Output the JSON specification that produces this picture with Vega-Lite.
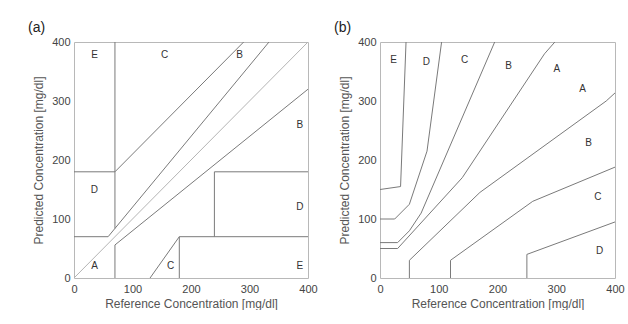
{
  "$schema": "https://vega.github.io/schema/vega-lite/v6.json",
  "background": "white",
  "padding": {"left": 27, "top": 20, "right": 0, "bottom": 0},
  "spacing": 15,
  "config": {
    "font": "Liberation Sans",
    "view": {"stroke": "#b8b8b8", "strokeWidth": 1},
    "axis": {"grid": false, "domain": false, "ticks": false, "labelFlush": false, "labelFontSize": 11, "labelColor": "#444", "titleFontSize": 12, "titleFontWeight": "normal", "titleColor": "#555"},
    "axisX": {"labelPadding": 5, "titlePadding": 4},
    "axisY": {"labelPadding": 4, "titlePadding": 6},
    "title": {"fontSize": 14, "fontWeight": "normal", "color": "#222", "anchor": "start", "frame": "group", "dx": -46, "offset": 1}
  },
  "hconcat": [
    {
      "title": "(a)",
      "width": 234,
      "height": 236,
      "layer": [
        {
          "data": {"values": [{"x": 0, "y": 0}, {"x": 400, "y": 400}]},
          "mark": {"type": "line", "color": "#b4b4b4", "strokeWidth": 1},
          "encoding": {
            "x": {"field": "x", "type": "quantitative", "scale": {"domain": [0, 400], "nice": false}, "axis": {"values": [0, 100, 200, 300, 400], "title": "Reference Concentration [mg/dl]"}},
            "y": {"field": "y", "type": "quantitative", "scale": {"domain": [0, 400], "nice": false}, "axis": {"values": [0, 100, 200, 300, 400], "title": "Predicted Concentration [mg/dl]"}}
          }
        },
        {
          "data": {"values": [
            {"seg": 1, "o": 1, "x": 0, "y": 70}, {"seg": 1, "o": 2, "x": 58.33, "y": 70}, {"seg": 1, "o": 3, "x": 333.33, "y": 400},
            {"seg": 2, "o": 1, "x": 70, "y": 84}, {"seg": 2, "o": 2, "x": 70, "y": 400},
            {"seg": 3, "o": 1, "x": 0, "y": 180}, {"seg": 3, "o": 2, "x": 70, "y": 180}, {"seg": 3, "o": 3, "x": 290, "y": 400},
            {"seg": 4, "o": 1, "x": 70, "y": 0}, {"seg": 4, "o": 2, "x": 70, "y": 56}, {"seg": 4, "o": 3, "x": 400, "y": 320},
            {"seg": 5, "o": 1, "x": 180, "y": 0}, {"seg": 5, "o": 2, "x": 180, "y": 70}, {"seg": 5, "o": 3, "x": 400, "y": 70},
            {"seg": 6, "o": 1, "x": 240, "y": 70}, {"seg": 6, "o": 2, "x": 240, "y": 180}, {"seg": 6, "o": 3, "x": 400, "y": 180},
            {"seg": 7, "o": 1, "x": 130, "y": 0}, {"seg": 7, "o": 2, "x": 180, "y": 70}
          ]},
          "mark": {"type": "line", "color": "#7a7a7a", "strokeWidth": 1},
          "encoding": {
            "x": {"field": "x", "type": "quantitative"},
            "y": {"field": "y", "type": "quantitative"},
            "detail": {"field": "seg"},
            "order": {"field": "o", "type": "quantitative"}
          }
        },
        {
          "data": {"values": [
            {"x": 35, "y": 20, "t": "A"}, {"x": 35, "y": 378, "t": "E"}, {"x": 155, "y": 378, "t": "C"},
            {"x": 283, "y": 378, "t": "B"}, {"x": 386, "y": 260, "t": "B"}, {"x": 35, "y": 149, "t": "D"},
            {"x": 386, "y": 120, "t": "D"}, {"x": 386, "y": 20, "t": "E"}, {"x": 165, "y": 20, "t": "C"}
          ]},
          "mark": {"type": "text", "fontSize": 10, "color": "#333"},
          "encoding": {
            "x": {"field": "x", "type": "quantitative"},
            "y": {"field": "y", "type": "quantitative"},
            "text": {"field": "t"}
          }
        }
      ]
    },
    {
      "title": "(b)",
      "width": 235,
      "height": 236,
      "layer": [
        {
          "data": {"values": [
            {"seg": "au", "o": 1, "x": 0, "y": 50}, {"seg": "au", "o": 2, "x": 30, "y": 50}, {"seg": "au", "o": 3, "x": 140, "y": 170}, {"seg": "au", "o": 4, "x": 280, "y": 380}, {"seg": "au", "o": 5, "x": 430, "y": 550},
            {"seg": "bu", "o": 1, "x": 0, "y": 60}, {"seg": "bu", "o": 2, "x": 30, "y": 60}, {"seg": "bu", "o": 3, "x": 50, "y": 80}, {"seg": "bu", "o": 4, "x": 70, "y": 110}, {"seg": "bu", "o": 5, "x": 260, "y": 550},
            {"seg": "cu", "o": 1, "x": 0, "y": 100}, {"seg": "cu", "o": 2, "x": 25, "y": 100}, {"seg": "cu", "o": 3, "x": 50, "y": 125}, {"seg": "cu", "o": 4, "x": 80, "y": 215}, {"seg": "cu", "o": 5, "x": 125, "y": 550},
            {"seg": "du", "o": 1, "x": 0, "y": 150}, {"seg": "du", "o": 2, "x": 35, "y": 155}, {"seg": "du", "o": 3, "x": 50, "y": 550},
            {"seg": "al", "o": 1, "x": 50, "y": 0}, {"seg": "al", "o": 2, "x": 50, "y": 30}, {"seg": "al", "o": 3, "x": 170, "y": 145}, {"seg": "al", "o": 4, "x": 385, "y": 300}, {"seg": "al", "o": 5, "x": 550, "y": 450},
            {"seg": "bl", "o": 1, "x": 120, "y": 0}, {"seg": "bl", "o": 2, "x": 120, "y": 30}, {"seg": "bl", "o": 3, "x": 260, "y": 130}, {"seg": "bl", "o": 4, "x": 550, "y": 250},
            {"seg": "cl", "o": 1, "x": 250, "y": 0}, {"seg": "cl", "o": 2, "x": 250, "y": 40}, {"seg": "cl", "o": 3, "x": 550, "y": 150}
          ]},
          "mark": {"type": "line", "color": "#7a7a7a", "strokeWidth": 1, "clip": true},
          "encoding": {
            "x": {"field": "x", "type": "quantitative", "scale": {"domain": [0, 400], "nice": false}, "axis": {"values": [0, 100, 200, 300, 400], "title": "Reference Concentration [mg/dl]"}},
            "y": {"field": "y", "type": "quantitative", "scale": {"domain": [0, 400], "nice": false}, "axis": {"values": [0, 100, 200, 300, 400], "title": "Predicted Concentration [mg/dl]"}},
            "detail": {"field": "seg"},
            "order": {"field": "o", "type": "quantitative"}
          }
        },
        {
          "data": {"values": [
            {"x": 23, "y": 369, "t": "E"}, {"x": 79, "y": 366, "t": "D"}, {"x": 144, "y": 369, "t": "C"},
            {"x": 219, "y": 360, "t": "B"}, {"x": 301, "y": 355, "t": "A"}, {"x": 345, "y": 320, "t": "A"},
            {"x": 355, "y": 229, "t": "B"}, {"x": 371, "y": 138, "t": "C"}, {"x": 374, "y": 46, "t": "D"}
          ]},
          "mark": {"type": "text", "fontSize": 10, "color": "#333"},
          "encoding": {
            "x": {"field": "x", "type": "quantitative"},
            "y": {"field": "y", "type": "quantitative"},
            "text": {"field": "t"}
          }
        }
      ]
    }
  ]
}
